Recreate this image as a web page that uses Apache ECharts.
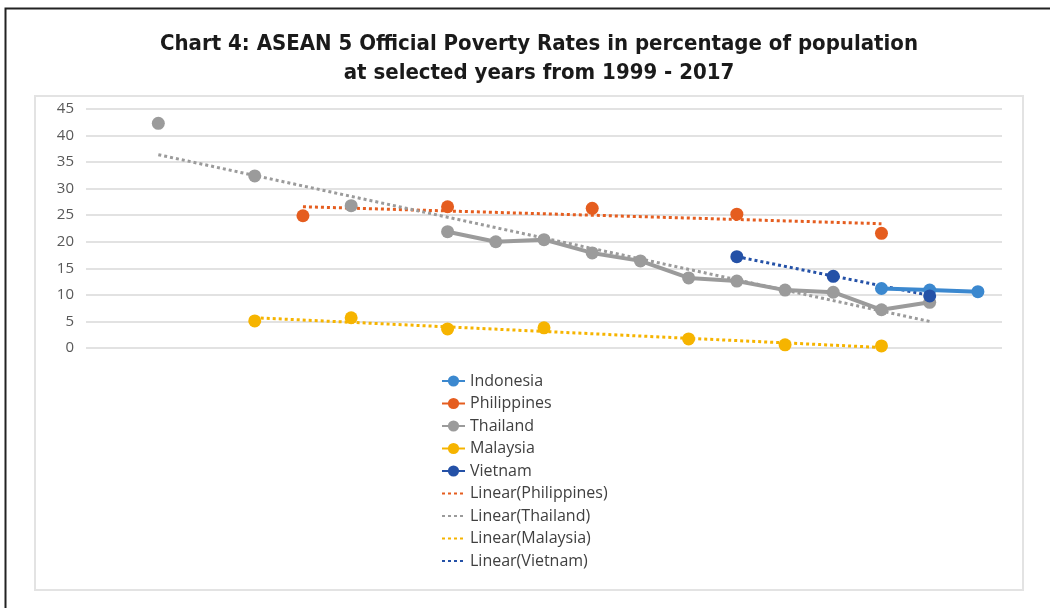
<!DOCTYPE html>
<html>
<head>
<meta charset="utf-8">
<script src="https://cdn.jsdelivr.net/npm/echarts@6/dist/echarts.min.js"></script>
<style>
html,body{margin:0;padding:0;background:#fff;}
#chart{width:1050px;height:608px;}
</style>
</head>
<body>
<div id="chart"></div>
<script>
const categories = ['1999','2000','2001','2002','2003','2004','2005','2006','2007','2008','2009','2010','2011','2012','2013','2014','2015','2016','2017'];
const yTicks = [0,5,10,15,20,25,30,35,40,45];
const N = null;
const indonesia   = [N,N,N,N,N,N,N,N,N,N,N,N,N,N,N,N,11.2,10.9,10.6];
const philippines = [N,N,N,N,24.9,N,N,26.6,N,N,26.3,N,N,25.2,N,N,21.6,N,N];
const thailand    = [N,42.3,N,32.4,N,26.8,N,21.9,20.0,20.4,17.9,16.4,13.2,12.6,10.9,10.5,7.2,8.6,N];
const malaysia    = [N,N,N,5.1,N,5.7,N,3.6,N,3.8,N,N,1.7,N,0.6,N,0.4,N,N];
const vietnam     = [N,N,N,N,N,N,N,N,N,N,N,N,N,17.2,N,13.5,N,9.8,N];
// trend line end points
const trendPhilippines = [N,N,N,N,26.6,N,N,N,N,N,N,N,N,N,N,N,23.4,N,N];
const trendThailand    = [N,36.4,N,N,N,N,N,N,N,N,N,N,N,N,N,N,N,5.0,N];
const trendMalaysia    = [N,N,N,5.7,N,N,N,N,N,N,N,N,N,N,N,N,0.1,N,N];
const trendVietnam     = [N,N,N,N,N,N,N,N,N,N,N,N,N,17.2,N,N,N,9.9,N];

const C = {ind:'#3b88cf', phi:'#e55d1f', tha:'#9b9b9b', mal:'#f6b400', vie:'#2451a7'};

function dataSeries(name, data, color, z){
  return {name, type:'line', data, connectNulls:false, symbol:'circle', symbolSize:13,
    itemStyle:{color}, lineStyle:{color, width:4}, z, animation:false};
}
function trendSeries(name, data, color, z){
  return {name, type:'line', data, connectNulls:true, symbol:'none',
    itemStyle:{color}, lineStyle:{color, width:3, type:[3,3]}, z, animation:false};
}

const chart = echarts.init(document.getElementById('chart'), null, {renderer:'canvas'});
chart.setOption({
  backgroundColor:'#fff',
  animation:false,
  title:{
    text:'Chart 4: ASEAN 5 Official Poverty Rates in percentage of population\nat selected years from 1999 - 2017',
    left:534, top:25, textAlign:'center',
    textStyle:{fontFamily:'"DejaVu Sans Condensed", "Liberation Sans Narrow", sans-serif', fontWeight:'bold', fontSize:22, lineHeight:29, color:'#1a1a1a'}
  },
  graphic:[
    {type:'rect', shape:{x:5.5, y:8.5, width:1100, height:700}, style:{fill:'none', stroke:'#222', lineWidth:2}, silent:true},
    {type:'rect', shape:{x:35, y:96, width:988, height:494}, style:{fill:'none', stroke:'#e3e3e3', lineWidth:2}, silent:true}
  ],
  legend:{
    orient:'vertical', left:441, top:373, padding:0, itemGap:6.5, itemWidth:23, itemHeight:14,
    textStyle:{fontFamily:'Open Sans', fontSize:16, color:'#404040'},
    data:['Indonesia','Philippines','Thailand','Malaysia','Vietnam',
      {name:'Linear(Philippines)', itemStyle:{opacity:0}},
      {name:'Linear(Thailand)', itemStyle:{opacity:0}},
      {name:'Linear(Malaysia)', itemStyle:{opacity:0}},
      {name:'Linear(Vietnam)', itemStyle:{opacity:0}}]
  },
  grid:{left:86, right:48, top:109, bottom:260, containLabel:false},
  xAxis:{type:'category', data:categories, boundaryGap:true,
    axisLine:{show:false}, axisTick:{show:false}, axisLabel:{show:false}, splitLine:{show:false}},
  yAxis:{type:'value', min:yTicks[0], max:yTicks[yTicks.length-1], interval:5,
    axisLine:{show:false}, axisTick:{show:false},
    axisLabel:{fontFamily:'Open Sans', fontSize:15, color:'#595959', margin:12},
    splitLine:{lineStyle:{color:'#d9d9d9', width:1.5}}},
  series:[
    trendSeries('Linear(Philippines)', trendPhilippines, C.phi, 1),
    trendSeries('Linear(Thailand)', trendThailand, C.tha, 1),
    trendSeries('Linear(Malaysia)', trendMalaysia, C.mal, 1),
    trendSeries('Linear(Vietnam)', trendVietnam, C.vie, 1),
    dataSeries('Indonesia', indonesia, C.ind, 3),
    dataSeries('Philippines', philippines, C.phi, 2),
    dataSeries('Thailand', thailand, C.tha, 2),
    dataSeries('Malaysia', malaysia, C.mal, 2),
    dataSeries('Vietnam', vietnam, C.vie, 4)
  ]
});
</script>
</body>
</html>
